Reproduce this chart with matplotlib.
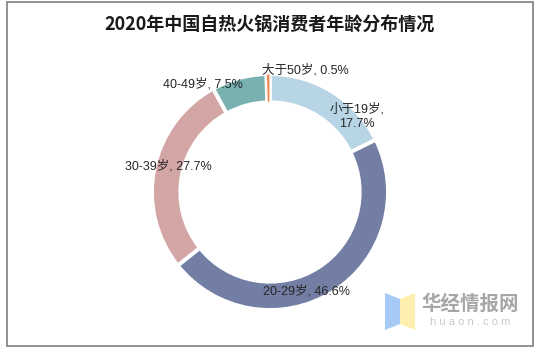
import matplotlib
matplotlib.use('Agg')
import matplotlib.pyplot as plt
from matplotlib.patches import Rectangle, Polygon

# data
groups = ['小于19岁', '20-29岁', '30-39岁', '40-49岁', '大于50岁']
shares = [17.7, 46.6, 27.7, 7.5, 0.5]
colors = ['#b7d5e5', '#727ea3', '#d4a5a5', '#79b0b0', '#ec8a55']
title = '2020年中国自热火锅消费者年龄分布情况'

W, H = 539, 350
fig = plt.figure(figsize=(W / 100, H / 100), dpi=100)

# pie centre (270,192) px, radius 118 px
cx, cy, r = 270, 192, 118
ax = fig.add_axes([(cx - r) / W, (H - cy - r) / H, 2 * r / W, 2 * r / H])

wedges, _ = ax.pie(shares, colors=colors, startangle=90, counterclock=False,
                   wedgeprops=dict(width=0.24, edgecolor='white', linewidth=2.8))
# the tiny slice gets a thin edge so it stays visible
wedges[-1].set_linewidth(0.8)
ax.set_xlim(-1, 1)
ax.set_ylim(-1, 1)
ax.set_aspect('equal')
ax.axis('off')

# label placement (fractions of radius)
label_pos = [(0.74, 0.64), (0.31, -0.84), (-0.86, 0.22), (-0.57, 0.91), (0.30, 1.035)]
lab_font = ['Liberation Sans', 'Noto Sans CJK SC']
for i, (g, s) in enumerate(zip(groups, shares)):
    if i == 0:
        txt = '%s,\n%.1f%%' % (g, s)
    else:
        txt = '%s, %.1f%%' % (g, s)
    ax.text(label_pos[i][0], label_pos[i][1], txt, ha='center', va='center',
            fontsize=9, color='#262626', family=lab_font, linespacing=1.3,
            clip_on=False)

fig.text(270 / W, 1 - 24 / H, title, ha='center', va='center', fontsize=13,
         fontweight='bold', family=['Noto Sans CJK SC'], color='#1a1a1a')

# outer frame
fig.patches.append(Rectangle((7 / W, 1 - 346 / H), 526 / W, 344 / H,
                             transform=fig.transFigure, fill=False,
                             edgecolor='#7f7f7f', linewidth=1.2))

# watermark
def px(pts):
    return [(x / W, 1 - y / H) for x, y in pts]

fig.patches.append(Polygon(px([(385, 293), (400, 299), (400, 324), (385, 330)]),
                           closed=True, transform=fig.transFigure,
                           facecolor='#a7c9f6', edgecolor='none'))
fig.patches.append(Polygon(px([(400, 299), (415, 293), (415, 330), (400, 324)]),
                           closed=True, transform=fig.transFigure,
                           facecolor='#fdf0ae', edgecolor='none'))
fig.text(470 / W, 1 - 304 / H, '华经情报网', ha='center', va='center',
         fontsize=14, fontweight='bold', color='#a6a6a6',
         family=['Noto Sans CJK SC'])
fig.text(470 / W, 1 - 322 / H, 'h u a o n . c o m', ha='center', va='center',
         fontsize=8, color='#c8c8c8', family=['Liberation Sans'])

fig.savefig('out.png', dpi=100)
